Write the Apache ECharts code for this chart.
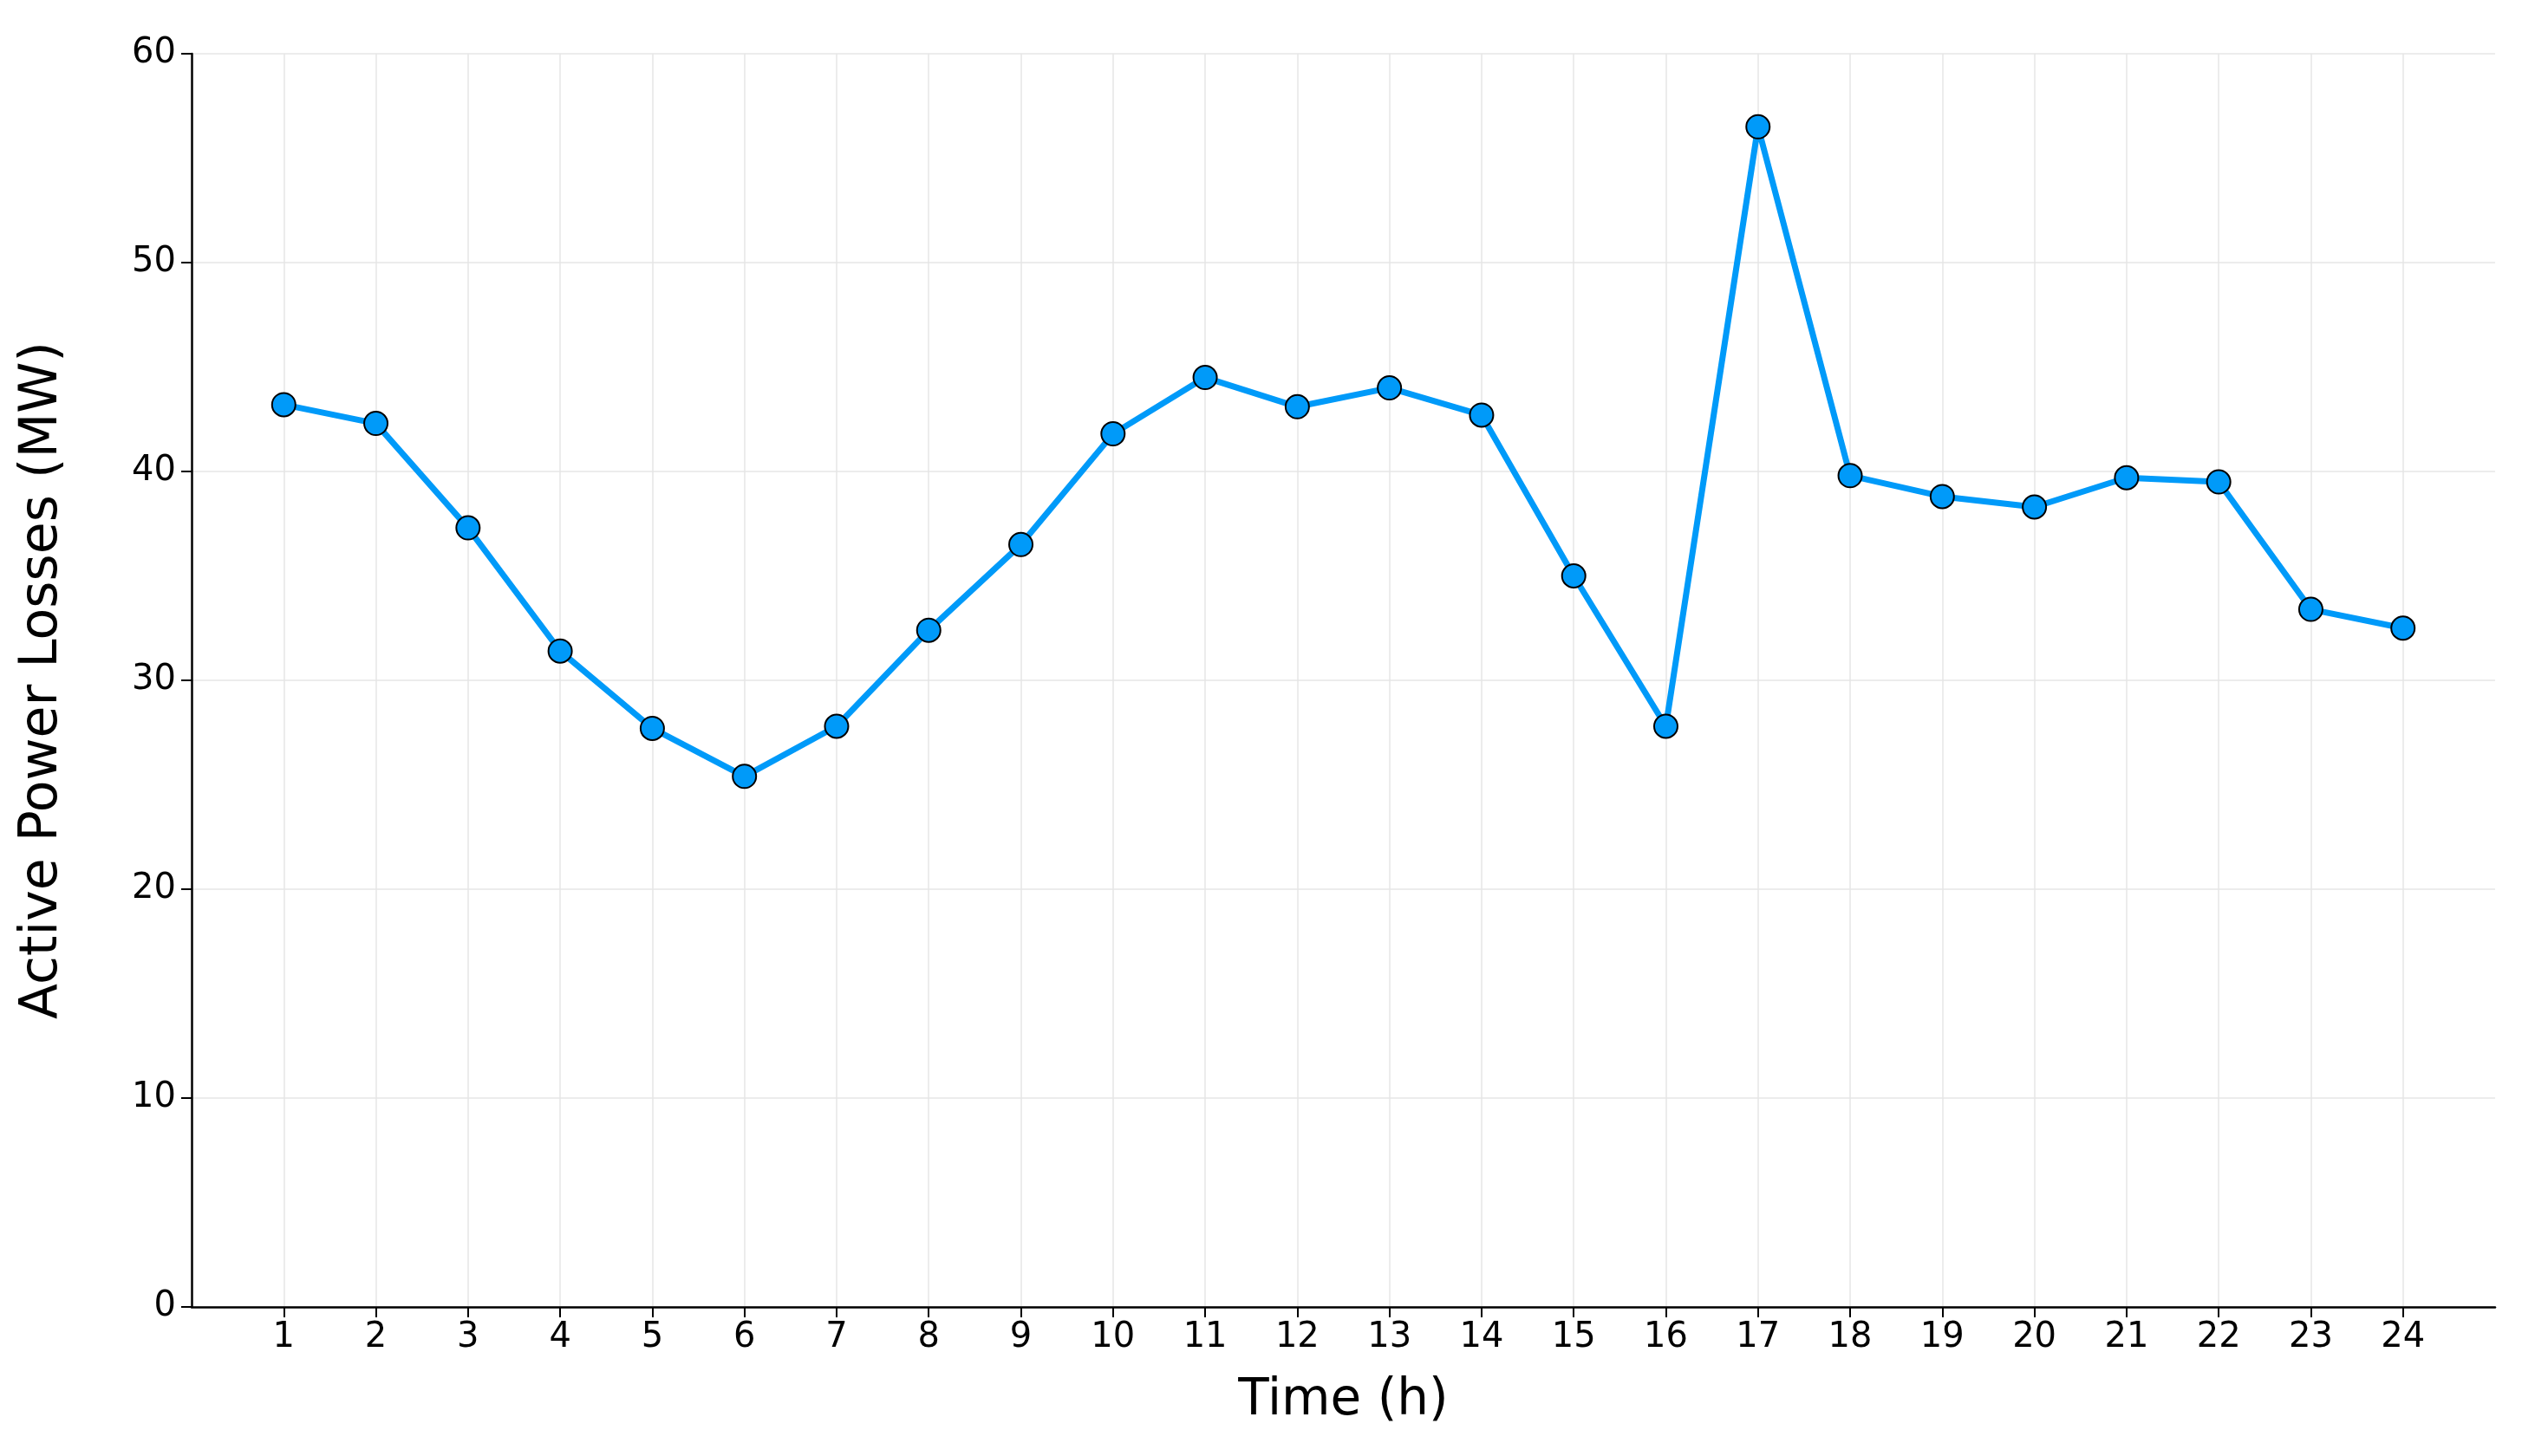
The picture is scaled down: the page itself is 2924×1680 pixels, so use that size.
<!DOCTYPE html>
<html>
<head>
<meta charset="utf-8">
<script src="https://cdn.jsdelivr.net/npm/echarts@6/dist/echarts.min.js"></script>
<style>html,body{margin:0;padding:0;background:#fff}#main{width:2924px;height:1680px}</style>
</head>
<body>
<div id="main"></div>
<script>
// hours and losses
var hours = [1,2,3,4,5,6,7,8,9,10,11,12,13,14,15,16,17,18,19,20,21,22,23,24];
var losses = [43.2,42.3,37.3,31.4,27.7,25.4,27.8,32.4,36.5,41.8,44.5,43.1,44.0,42.7,35.0,27.8,56.5,39.8,38.8,38.3,39.7,39.5,33.4,32.5];
var yTicks = [0,10,20,30,40,50,60];

var chart = echarts.init(document.getElementById('main'));
var font = 'DejaVu Sans';
chart.setOption({
    animation: false,
    grid: {left: 221, right: 46, top: 62, bottom: 172, containLabel: false},
    xAxis: {
        type: 'value', min: 0, max: 25, interval: 1,
        name: 'Time (h)', nameLocation: 'middle', nameGap: 80,
        nameTextStyle: {fontFamily: font, fontSize: 58, color: '#000'},
        axisLine: {lineStyle: {color: '#000', width: 2.5}},
        axisTick: {customValues: hours, length: 12, lineStyle: {color: '#000', width: 2}},
        axisLabel: {customValues: hours, fontFamily: font, fontSize: 40, color: '#000', margin: 16},
        splitLine: {show: true, lineStyle: {color: '#e6e6e6', width: 1.5}}
    },
    yAxis: {
        type: 'value', min: yTicks[0], max: yTicks[yTicks.length - 1], interval: 10,
        name: 'Active Power Losses (MW)', nameLocation: 'middle', nameGap: 142,
        nameTextStyle: {fontFamily: font, fontSize: 60, color: '#000'},
        axisLine: {show: true, lineStyle: {color: '#000', width: 2.5}},
        axisTick: {show: true, length: 12, lineStyle: {color: '#000', width: 2}},
        axisLabel: {fontFamily: font, fontSize: 40, color: '#000', margin: 18},
        splitLine: {show: true, lineStyle: {color: '#e6e6e6', width: 1.5}}
    },
    series: [{
        type: 'line',
        data: hours.map(function (h, i) { return [h, losses[i]]; }),
        symbol: 'circle', symbolSize: 27,
        lineStyle: {color: '#009af9', width: 7},
        itemStyle: {color: '#009af9', borderColor: '#000', borderWidth: 2}
    }]
});
</script>
</body>
</html>
